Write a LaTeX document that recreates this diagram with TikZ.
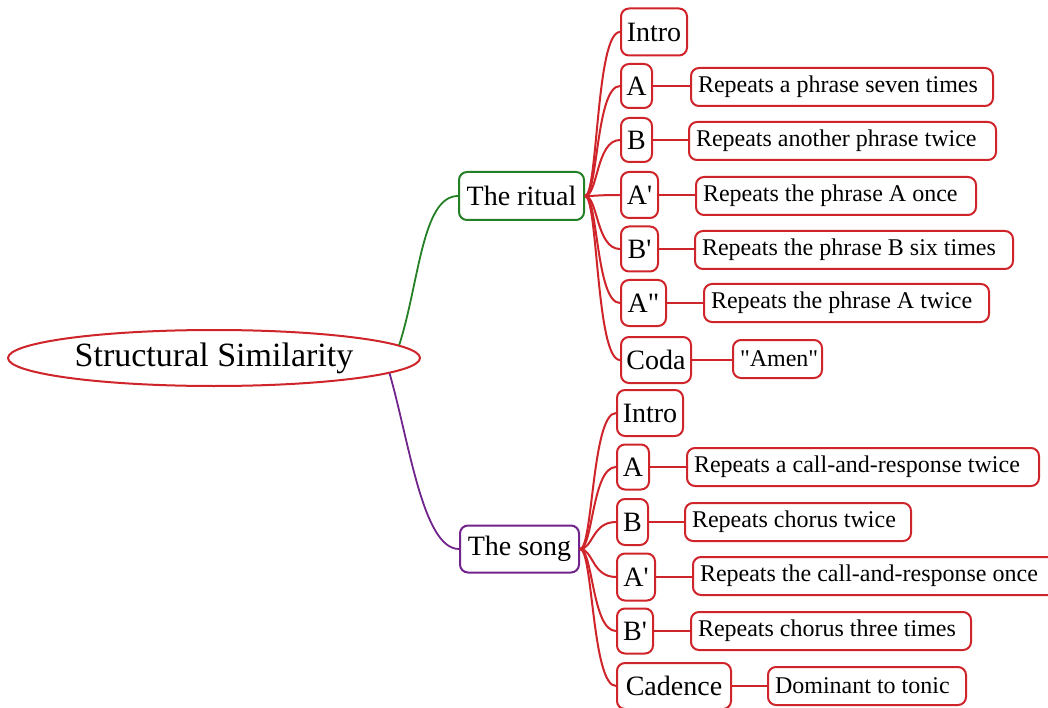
\documentclass[tikz,border=0pt]{standalone}
\usepackage{fontspec}
\setmainfont[Ligatures=TeXOff]{Liberation Serif}
\usetikzlibrary{shapes.geometric}
\definecolor{mred}{RGB}{206,36,42}
\definecolor{mgreen}{RGB}{36,128,36}
\definecolor{mpurple}{RGB}{112,36,140}
\tikzset{
  rootnode/.style={ellipse, draw=mred, line width=2pt, inner sep=0pt,
    minimum width=412pt, minimum height=56pt, font=\rmfamily\fontsize{34}{36}\selectfont},
  midnode/.style={draw=#1, line width=2pt, rounded corners=8pt, anchor=west,
    inner sep=0pt, minimum height=47pt, font=\rmfamily\fontsize{28}{30}\selectfont},
  kid/.style={draw=mred, line width=2pt, rounded corners=8pt, anchor=west,
    inner sep=0pt, minimum height=45pt, font=\rmfamily\fontsize{28}{30}\selectfont},
  leaf/.style={draw=mred, line width=2pt, rounded corners=8pt, anchor=west,
    inner ysep=0pt, inner xsep=7pt, minimum height=38pt, text width=#1, align=flush left,
    font=\rmfamily\fontsize{24}{26}\selectfont},
  link/.style={draw=mred, line width=2pt},
}
\begin{document}
\begin{tikzpicture}[x=1pt,y=-1pt]
\useasboundingbox (0,0) rectangle (1048,708);
\clip (0,0) rectangle (1048,708);

\node[rootnode] (root) at (214,358) {Structural Similarity};

\node[midnode=mgreen, minimum width=125pt, minimum height=48pt] (rit) at (458,196) {The ritual};
\node[midnode=mpurple, minimum width=119pt] (song) at (459,549) {The song};

\draw[mgreen, line width=1.8pt] (root.4) .. controls +(20,-62) and +(-36,0) .. (rit.west);
\draw[mpurple, line width=1.8pt] (root.-5.5) .. controls +(20,70) and +(-36,0) .. (song.west);

% ritual children
\node[kid, minimum width=66pt, minimum height=47pt] (r1) at (620,32) {Intro};
\node[kid, minimum width=31pt, minimum height=44pt] (r2) at (620,86) {A};
\node[kid, minimum width=31pt, minimum height=44pt] (r3) at (620,140) {B};
\node[kid, minimum width=37pt, minimum height=46pt] (r4) at (620,195) {A'};
\node[kid, minimum width=37pt] (r5) at (620,249) {B'};
\node[kid, minimum width=45pt, minimum height=46pt] (r6) at (620,303) {A"};
\node[kid, minimum width=70pt, minimum height=46pt] (r7) at (620,360) {Coda};

\node[leaf=288pt] (rl2) at (690,87) {Repeats a phrase seven times};
\node[leaf=293pt] (rl3) at (688,141) {Repeats another phrase twice};
\node[leaf=266pt] (rl4) at (695,196) {Repeats the phrase A once};
\node[leaf=304pt] (rl5) at (694,250) {Repeats the phrase B six times};
\node[leaf=271pt] (rl6) at (703,303) {Repeats the phrase A twice};
\node[leaf=75pt] (rl7) at (732,359) {"Amen"};

\foreach \c in {r1,r2,r3,r4,r5,r6,r7}
  \draw[link] (rit.east) .. controls +(13,0) and +(-24,0) .. (\c.west);
\foreach \a/\b in {r2/rl2,r3/rl3,r4/rl4,r5/rl5,r6/rl6,r7/rl7}
  \draw[link] (\a.east) -- (\a.east -| \b.west);

% song children
\node[kid, minimum width=66pt, minimum height=46pt] (s1) at (616,413) {Intro};
\node[kid, minimum width=32pt] (s2) at (616,467) {A};
\node[kid, minimum width=31pt, minimum height=46pt] (s3) at (616,522) {B};
\node[kid, minimum width=38pt, minimum height=47pt] (s4) at (616,577) {A'};
\node[kid, minimum width=36pt] (s5) at (616,631) {B'};
\node[kid, minimum width=114pt, minimum height=46pt] (s6) at (616,686) {Cadence};

\node[leaf=338pt] (sl2) at (686,467) {Repeats a call-and-response twice};
\node[leaf=212pt] (sl3) at (684,522) {Repeats chorus twice};
\node[leaf=358pt] (sl4) at (692,576) {Repeats the call-and-response once};
\node[leaf=266pt] (sl5) at (690,631) {Repeats chorus three times};
\node[leaf=184pt] (sl6) at (767,686) {Dominant to tonic};

\foreach \c in {s1,s2,s3,s4,s5,s6}
  \draw[link] (song.east) .. controls +(13,0) and +(-24,0) .. (\c.west);
\foreach \a/\b in {s2/sl2,s3/sl3,s4/sl4,s5/sl5,s6/sl6}
  \draw[link] (\a.east) -- (\a.east -| \b.west);
\end{tikzpicture}
\end{document}
